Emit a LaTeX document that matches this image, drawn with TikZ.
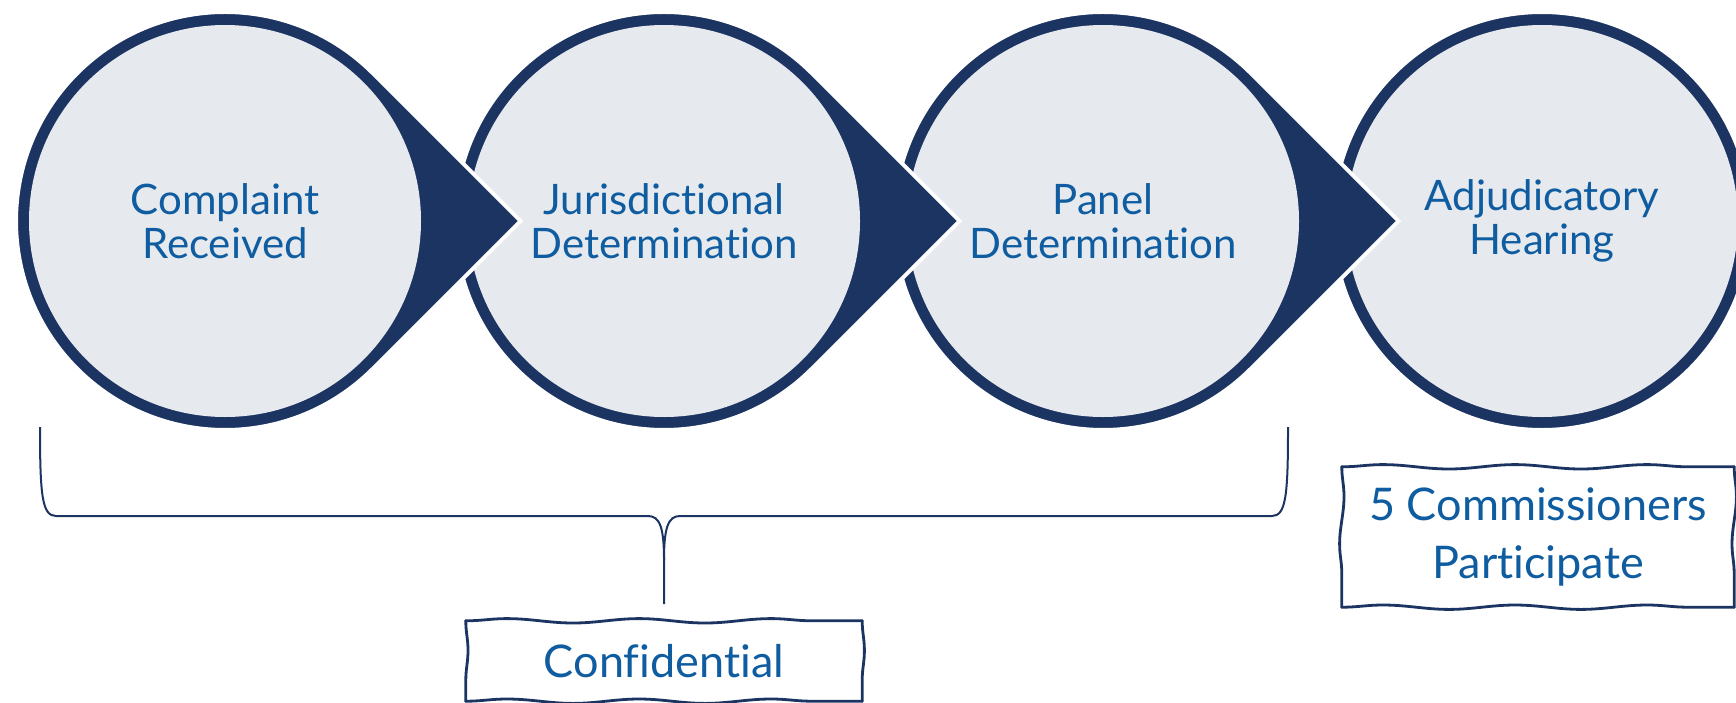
\documentclass[tikz,border=0pt]{standalone}
\usepackage{fontspec}
\setmainfont{Lato}[Ligatures=NoCommon]
\usetikzlibrary{decorations.pathmorphing}
\definecolor{navy}{HTML}{1C3461}
\definecolor{stagefill}{HTML}{E6E9EE}
\definecolor{stageblue}{HTML}{0F5DA0}

% hand-drawn frame round a note node
\newcommand\wavyframe[1]{%
  \draw[wavy=132pt] (#1.north west) -- (#1.north east);
  \draw[wavy=132pt] (#1.south west) -- (#1.south east);
  \draw[wavy=95pt] (#1.north west) -- (#1.south west);
  \draw[wavy=95pt] (#1.north east) -- (#1.south east);}

\begin{document}
\begin{tikzpicture}[x=1pt, y=-1pt,
  stage/.style={circle, fill=stagefill, minimum size=392pt, inner sep=0pt, align=center,
    text=stageblue, font=\fontsize{42}{44}\selectfont},
  drop/.style={fill=navy, draw=white, line width=4pt},
  note/.style={fill=white, inner sep=0pt, align=center, text=stageblue,
    font=\fontsize{45}{58}\selectfont},
  wavy/.style={draw=navy, line width=2.8pt, line cap=round, decorate,
    decoration={snake, segment length=#1, amplitude=2.2pt}},
  brace/.style={draw=navy, line width=2pt}
]
\useasboundingbox (0,0) rectangle (1736,702);
\clip (0,0) rectangle (1736,702);

% stages, right to left so each tip lies on the next circle
\path[drop] (1542,221) circle[radius=209];
\node[stage] (c4) at (1542,221) {Adjudicatory\\Hearing};
\foreach \i/\cx/\txt in {3/1103/{Panel\\Determination},
                         2/664/{Jurisdictional\\Determination},
                         1/225/{Complaint\\Received}} {
  \path[drop] (\cx+295.6,221) -- (\cx+147.8,73.2)
    arc[start angle=-45, end angle=-315, radius=209] -- cycle;
  \node[stage] (c\i) at (\cx,221) {\txt};
}

% brace under the first three stages
\coordinate (bl) at (40,427);
\coordinate (br) at (1288,427);
\coordinate (bt) at (664,560);
\coordinate (bm) at (664,604);
\draw[brace] (bl) .. controls (40,495) and (42,516) .. (56,516) -- (648,516)
  .. controls (660,516) and (664,528) .. (bt) -- (bm);
\draw[brace] (br) .. controls (1288,495) and (1286,516) .. (1272,516) -- (680,516)
  .. controls (668,516) and (664,528) .. (bt);

% notes
\node[note, minimum width=396pt, minimum height=80pt] (conf) at (664,661) {Confidential};
\node[note, minimum width=392pt, minimum height=140pt] (comm) at (1538,537) {5 Commissioners\\Participate};
\wavyframe{conf}
\wavyframe{comm}
\end{tikzpicture}
\end{document}
